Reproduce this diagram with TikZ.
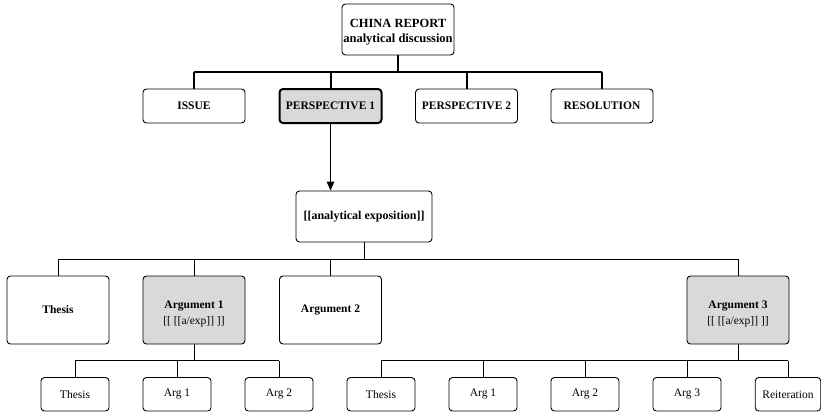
\documentclass[tikz,border=0pt]{standalone}
\usepackage{fontspec}
\setmainfont{Liberation Serif}
\usetikzlibrary{arrows.meta}
\begin{document}
\begin{tikzpicture}[x=1pt,y=-1pt,
  box/.style={draw=black,line width=0.9pt,rounded corners=3.5pt,fill=white,inner sep=0pt,align=center,text=black},
  grey/.style={fill=gray!30},
  lvltwo/.style={box,minimum width=102pt,minimum height=34pt,font=\fontsize{11.5}{13}\selectfont\bfseries},
  lvlthree/.style={box,minimum width=102pt,minimum height=68pt,font=\fontsize{11.5}{16.5}\selectfont},
  small/.style={box,minimum width=68pt,minimum height=33.5pt,font=\fontsize{11.5}{13}\selectfont},
  thickline/.style={line width=2pt},
  midline/.style={line width=1.3pt},
  thinline/.style={line width=0.8pt}]
\useasboundingbox[fill=white] (0,0) rectangle (821,412);
% level 1
\node[box,minimum width=112pt,minimum height=51pt,font=\fontsize{12.5}{15.5}\selectfont\bfseries] (china) at (398,29.5) {\rule{0pt}{14pt}CHINA REPORT\\analytical discussion};
% level 2
\node[lvltwo] (issue) at (194,106) {ISSUE};
\node[lvltwo,grey,line width=2pt] (p1) at (330.5,106) {PERSPECTIVE 1};
\node[lvltwo] (p2) at (466.5,106) {PERSPECTIVE 2};
\node[lvltwo] (res) at (602,106) {RESOLUTION};
\coordinate (bara) at (398,71.5);
\draw[thickline] (china.south) -- (bara);
\draw[thickline] (issue.north |- bara) -- (res.north |- bara);
\draw[midline] (issue.north) -- (issue.north |- bara);
\draw[thickline] (p1.north) -- (p1.north |- bara);
\draw[thickline] (p2.north) -- (p2.north |- bara);
\draw[midline] (res.north) -- (res.north |- bara);
% analytical exposition
\node[box,minimum width=136pt,minimum height=51pt,font=\fontsize{12}{14}\selectfont\bfseries] (ae) at (364,216.5) {[[analytical exposition]]};
\draw[midline,-{Triangle[width=7.5pt,length=9pt]}] (p1.south) -- (p1.south |- ae.north);
% level 3
\node[lvlthree] (thesis) at (58,310) {\bfseries Thesis};
\node[lvlthree,grey] (arg1) at (194,310) {\rule{0pt}{15pt}\textbf{Argument 1}\\{}[[ [[a/exp]] ]]};
\node[lvlthree] (arg2) at (330.5,310) {\bfseries Argument 2};
\node[lvlthree,grey] (arg3) at (738,310) {\rule{0pt}{15pt}\textbf{Argument 3}\\{}[[ [[a/exp]] ]]};
\coordinate (barb) at (364,259);
\draw[thinline] (ae.south) -- (barb);
\draw[thinline] (thesis.north |- barb) -- (arg3.north |- barb);
\foreach \n in {thesis,arg1,arg2,arg3} \draw[thinline] (\n.north) -- (\n.north |- barb);
% level 4 under argument 1
\node[small] (sa1) at (75,394.25) {Thesis};
\node[small] (sa2) at (177,394.25) {Arg 1};
\node[small] (sa3) at (279,394.25) {Arg 2};
\coordinate (barc) at (194,360.5);
\draw[thinline] (arg1.south) -- (barc);
\draw[thinline] (sa1.north |- barc) -- (sa3.north |- barc);
\foreach \n in {sa1,sa2,sa3} \draw[thinline] (\n.north) -- (\n.north |- barc);
% level 4 under argument 3
\node[small] (sb1) at (381,394.25) {Thesis};
\node[small] (sb2) at (483,394.25) {Arg 1};
\node[small] (sb3) at (585,394.25) {Arg 2};
\node[small] (sb4) at (687,394.25) {Arg 3};
\node[small,minimum width=65.5pt] (sb5) at (788,394.25) {Reiteration};
\coordinate (bard) at (738,360.5);
\draw[thinline] (arg3.south) -- (bard);
\draw[thinline] (sb1.north |- bard) -- (sb5.north |- bard);
\foreach \n in {sb1,sb2,sb3,sb4,sb5} \draw[thinline] (\n.north) -- (\n.north |- bard);
\end{tikzpicture}
\end{document}
